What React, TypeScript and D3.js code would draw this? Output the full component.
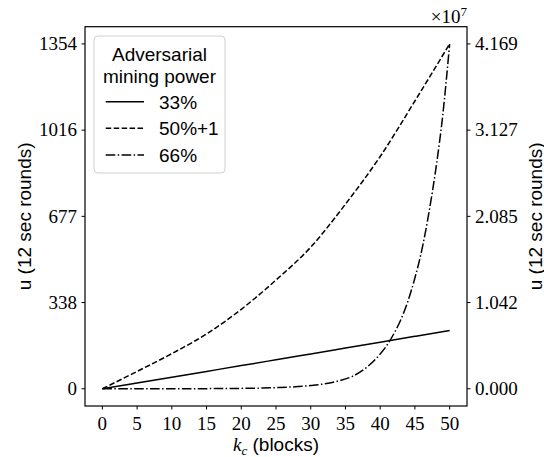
import React, { useEffect } from "react";
import * as d3 from "d3";

// ---- data ----
const kCoarse = [0, 5, 10, 15, 20, 25, 30, 35, 40, 45, 50];
const u33 = [0, 22.6, 45.3, 68.1, 90.9, 113.8, 136.7, 159.7, 182.7, 205.8, 228.9];
const u50 = [0, 68, 138, 215, 312, 427, 556, 725, 912, 1130, 1354];
const k66 = [0, 5, 10, 15, 20, 25, 30, 32, 34, 36, 38, 40, 41, 42, 43, 44, 45, 46, 47, 48, 49, 50];
const u66 = [0, 1.6e3, 5e3, 1.5e4, 4.5e4, 1.35e5, 3.9e5, 6.0e5, 9.5e5, 1.5e6, 2.55e6, 4.2e6, 5.3e6, 6.7e6, 8.4e6, 1.06e7, 1.34e7, 1.68e7, 2.12e7, 2.65e7, 3.3e7, 4.169e7];

const xTicks = [0, 5, 10, 15, 20, 25, 30, 35, 40, 45, 50];
const leftTickValues = [0, 338.5, 677, 1015.5, 1354];
const leftTickLabels = ["0", "338", "677", "1016", "1354"];
const rightTickValues = [0, 1.04225e7, 2.0845e7, 3.12675e7, 4.169e7];
const rightTickLabels = ["0.000", "1.042", "2.085", "3.127", "4.169"];

const legendTitle = ["Adversarial", "mining power"];
const legendLabels = ["33%", "50%+1", "66%"];

const W = 544;
const H = 457;
const L = 85, R = 467, T = 26.7, B = 406;
const SERIF = "'Liberation Serif', 'DejaVu Serif', serif";
const SANS = "'Liberation Sans', Arial, sans-serif";

export default function App() {
  useEffect(() => {
    document.body.style.margin = "0";
  }, []);

  const x = d3.scaleLinear().domain([-2.5, 52.5]).range([L, R]);
  const leftMax = 1354;
  const rightMax = 4.169e7;
  const yL = d3.scaleLinear().domain([-0.05 * leftMax, 1.05 * leftMax]).range([B, T]);
  const yR = d3.scaleLinear().domain([-0.05 * rightMax, 1.05 * rightMax]).range([B, T]);

  const lineL = d3
    .line<[number, number]>()
    .x((d) => x(d[0]))
    .y((d) => yL(d[1]))
    .curve(d3.curveMonotoneX);
  const lineR = d3
    .line<[number, number]>()
    .x((d) => x(d[0]))
    .y((d) => yR(d[1]))
    .curve(d3.curveMonotoneX);

  const d33 = lineL(kCoarse.map((k, i) => [k, u33[i]] as [number, number])) || "";
  const d50 = lineL(kCoarse.map((k, i) => [k, u50[i]] as [number, number])) || "";
  const d66 = lineR(k66.map((k, i) => [k, u66[i]] as [number, number])) || "";

  const styles = [
    { dash: "none" },
    { dash: "5.55 2.4" },
    { dash: "9.6 2.4 1.5 2.4" },
  ];

  const midY = (T + B) / 2;
  const legX = 94, legY = 36, legW = 131, legH = 137;
  const entryY = [101.7, 128.3, 155];

  return (
    <svg
      width={W}
      height={H}
      viewBox={`0 0 ${W} ${H}`}
      style={{ position: "absolute", left: 0, top: 0, background: "#fff" }}
    >
      <rect x={0} y={0} width={W} height={H} fill="#fff" />
      {/* lines */}
      <g fill="none" stroke="#000" strokeWidth={1.5}>
        <path d={d33} strokeDasharray={styles[0].dash} />
        <path d={d50} strokeDasharray={styles[1].dash} />
        <path d={d66} strokeDasharray={styles[2].dash} />
      </g>
      {/* frame */}
      <rect x={L} y={T} width={R - L} height={B - T} fill="none" stroke="#000" strokeWidth={1.2} />

      {/* x ticks */}
      {xTicks.map((t) => (
        <g key={"x" + t}>
          <line x1={x(t)} x2={x(t)} y1={B} y2={B + 3.5} stroke="#000" strokeWidth={1} />
          <text x={x(t)} y={430} textAnchor="middle" fontFamily={SERIF} fontSize={19}>
            {t}
          </text>
        </g>
      ))}
      {/* left ticks */}
      {leftTickValues.map((t, i) => (
        <g key={"l" + i}>
          <line x1={L - 3.5} x2={L} y1={yL(t)} y2={yL(t)} stroke="#000" strokeWidth={1} />
          <text x={77} y={yL(t)} dy="0.33em" textAnchor="end" fontFamily={SERIF} fontSize={19}>
            {leftTickLabels[i]}
          </text>
        </g>
      ))}
      {/* right ticks */}
      {rightTickValues.map((t, i) => (
        <g key={"r" + i}>
          <line x1={R} x2={R + 3.5} y1={yR(t)} y2={yR(t)} stroke="#000" strokeWidth={1} />
          <text x={475} y={yR(t)} dy="0.33em" textAnchor="start" fontFamily={SERIF} fontSize={19}>
            {rightTickLabels[i]}
          </text>
        </g>
      ))}
      {/* offset text */}
      <text x={R} y={22.7} textAnchor="end" fontFamily={SERIF} fontSize={19}>
        ×10<tspan fontSize={13} dy={-7}>7</tspan>
      </text>

      {/* axis labels */}
      <text
        transform={`translate(31,${midY}) rotate(-90)`}
        textAnchor="middle"
        fontFamily={SANS}
        fontSize={19}
      >
        u (12 sec rounds)
      </text>
      <text
        transform={`translate(542,${midY}) rotate(-90)`}
        textAnchor="middle"
        fontFamily={SANS}
        fontSize={19}
      >
        u (12 sec rounds)
      </text>
      <text x={(L + R) / 2} y={451} textAnchor="middle" fontSize={19}>
        <tspan fontFamily={SERIF} fontStyle="italic">k</tspan>
        <tspan fontFamily={SERIF} fontStyle="italic" fontSize={13} dy={4}>c</tspan>
        <tspan fontFamily={SANS} dy={-4}> (blocks)</tspan>
      </text>

      {/* legend */}
      <rect
        x={legX}
        y={legY}
        width={legW}
        height={legH}
        rx={4}
        fill="#fff"
        fillOpacity={0.8}
        stroke="#d0d0d0"
        strokeWidth={1}
      />
      <text x={legX + legW / 2} y={60.7} textAnchor="middle" fontFamily={SANS} fontSize={19}>
        {legendTitle[0]}
      </text>
      <text x={legX + legW / 2} y={83.3} textAnchor="middle" fontFamily={SANS} fontSize={19}>
        {legendTitle[1]}
      </text>
      {legendLabels.map((lab, i) => (
        <g key={lab}>
          <line
            x1={105.7}
            x2={144}
            y1={entryY[i]}
            y2={entryY[i]}
            stroke="#000"
            strokeWidth={1.5}
            strokeDasharray={styles[i].dash}
          />
          <text x={159} y={entryY[i] + 7} fontFamily={SANS} fontSize={19}>
            {lab}
          </text>
        </g>
      ))}
    </svg>
  );
}
